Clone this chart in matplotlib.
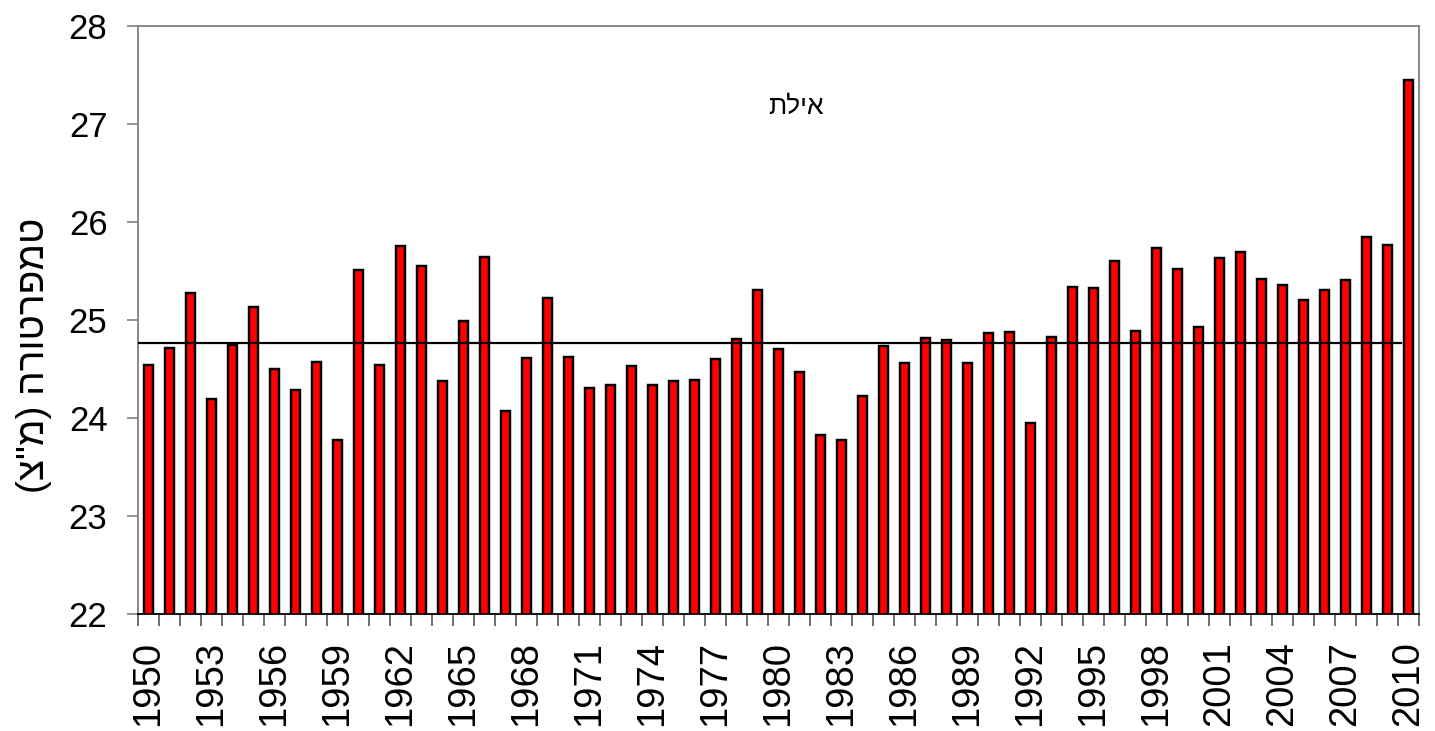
import matplotlib
matplotlib.use('Agg')
import matplotlib.pyplot as plt
import numpy as np

# ---- data ----
years = list(range(1950, 2011))
temps = [24.54, 24.72, 25.28, 24.20, 24.75, 25.14, 24.50, 24.29, 24.57, 23.78,
         25.51, 24.54, 25.76, 25.55, 24.38, 24.99, 25.65, 24.07, 24.62, 25.23,
         24.63, 24.31, 24.34, 24.53, 24.34, 24.38, 24.39, 24.61, 24.81, 25.31,
         24.71, 24.47, 23.83, 23.78, 24.23, 24.74, 24.56, 24.82, 24.80, 24.56,
         24.87, 24.88, 23.95, 24.83, 25.34, 25.33, 25.61, 24.89, 25.74, 25.52,
         24.93, 25.64, 25.70, 25.42, 25.36, 25.21, 25.31, 25.41, 25.85, 25.77,
         27.45]
mean_value = 24.77
station_name = "אילת"
y_label = 'טמפרטורה (מ"צ)'
y_ticks = [22, 23, 24, 25, 26, 27, 28]
x_label_years = years[::3]


def visual(s):
    """Right-to-left text to visual (left-to-right) order for rendering."""
    mirror = {'(': ')', ')': '('}
    return ''.join(mirror.get(c, c) for c in reversed(s))


plt.rcParams['font.family'] = ['Liberation Sans', 'DejaVu Sans']

W, H = 1435, 731
fig = plt.figure(figsize=(W / 100, H / 100), dpi=100)
left, right, top, bottom = 138, 1419, 26.3, 614.3
ax = fig.add_axes([left / W, 1 - bottom / H, (right - left) / W, (bottom - top) / H])

x = np.arange(len(years))
ax.bar(x, temps, width=0.40, color='#ff0000', edgecolor='black', linewidth=1.75, zorder=2)

# long-term mean line
ax.plot([-0.5, 59.62], [mean_value, mean_value], color='black', linewidth=1.6, zorder=3)

ax.set_xlim(-0.5, len(years) - 0.5)
ax.set_ylim(22, 28)

# y axis
ax.set_yticks(y_ticks)
ax.set_yticklabels([str(v) for v in y_ticks], fontsize=25)
ax.tick_params(axis='y', length=8, width=1.2, color='#808080', pad=14)

# x axis: labels every 3 years, tick marks at category boundaries
label_pos = [years.index(yy) for yy in x_label_years]
ax.set_xticks(label_pos)
ax.set_xticklabels([str(yy) for yy in x_label_years], rotation=90, fontsize=27.5)
ax.tick_params(axis='x', which='major', length=0, pad=19)
ax.set_xticks(np.arange(-0.5, len(years)), minor=True)
ax.tick_params(axis='x', which='minor', length=8.6, width=1.2, color='#555555')

for side in ['top', 'right', 'left']:
    ax.spines[side].set_color('#808080')
    ax.spines[side].set_linewidth(1.3)
ax.spines['bottom'].set_color('black')
ax.spines['bottom'].set_linewidth(1.3)

ax.text(0.514, 0.863, visual(station_name), transform=ax.transAxes,
        ha='center', va='center', fontsize=19)

fig.text(34 / W, 1 - 355 / H, visual(y_label), rotation=90,
         ha='center', va='center', fontsize=28)

fig.savefig('out.png', dpi=100)
